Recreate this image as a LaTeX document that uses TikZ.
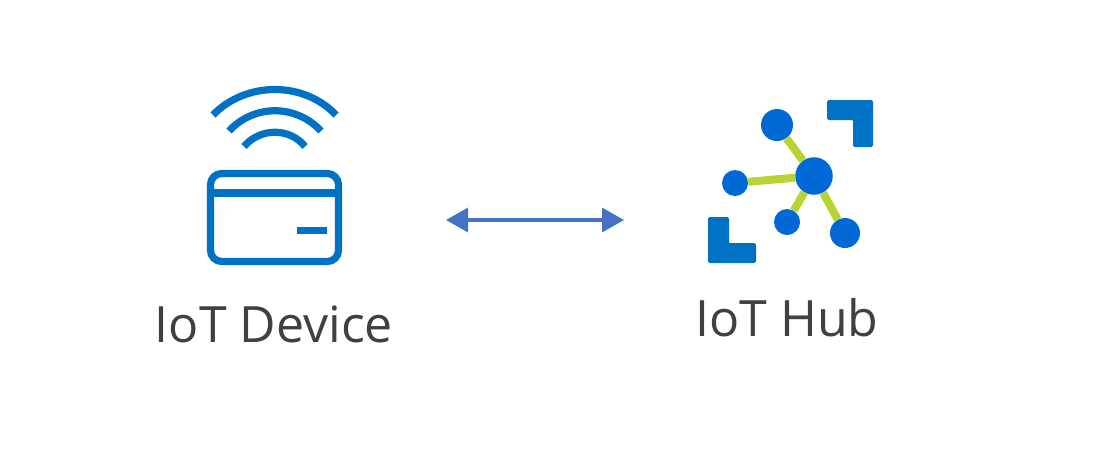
\documentclass[tikz,border=0pt]{standalone}
\usepackage{fontspec}
\setmainfont{Open Sans}
\usetikzlibrary{arrows.meta}
\definecolor{devblue}{HTML}{0072C6}
\definecolor{hubblue}{HTML}{0069D6}
\definecolor{linkgreen}{HTML}{B8D432}
\definecolor{arrowblue}{HTML}{4472C4}
\definecolor{labelgray}{HTML}{404040}
\tikzset{
  wave/.style={draw=devblue,line width=0.18cm},
  hubdot/.style={circle,fill=hubblue,inner sep=0pt,minimum size=#1*0.025cm},
  hublink/.style={draw=linkgreen,line width=0.2cm},
  corner/.style={fill=devblue,draw=devblue,line width=0.03cm,rounded corners=0.03cm},
  caption/.style={text=labelgray,font=\fontsize{35.6}{40}\selectfont,anchor=base}
}
\begin{document}
\begin{tikzpicture}[x=0.025cm,y=-0.025cm]
\useasboundingbox (0,0) rectangle (1096,449);

% Device: waves
\draw[wave] (213,115) .. controls (246,81) and (304,81) .. (336,115);
\draw[wave] (229,131) .. controls (254,104) and (296,104) .. (321,131);
\draw[wave] (244,146.5) .. controls (260,127.5) and (290,127.5) .. (305,146.5);

% Device: card
\draw[wave,rounded corners=0.28cm] (210.5,173.5) rectangle (338.5,261.5);
\draw[wave] (210.5,193) -- (338.5,193);
\draw[wave] (297,230.5) -- (327,230.5);

% Hub: nodes
\node[hubdot=37.5] (C) at (814,176) {};
\node[hubdot=32] (A) at (777,125) {};
\node[hubdot=26] (B) at (735,183) {};
\node[hubdot=26] (D) at (787,222) {};
\node[hubdot=30] (E) at (845,233) {};

% Hub: links
\draw[hublink] (C) -- (A);
\draw[hublink] (C) -- (B);
\draw[hublink] (C) -- (D);
\draw[hublink] (C) -- (E);

% Hub: corners
\fill[corner] (827.6,100.6) -- (872.4,100.6) -- (872.4,146.4) -- (853.6,146.4) -- (853.6,119.4) -- (827.6,119.4) -- cycle;
\fill[corner] (708.6,217.6) -- (728.4,217.6) -- (728.4,243.6) -- (755.4,243.6) -- (755.4,262.4) -- (708.6,262.4) -- cycle;

% Arrow
\coordinate (L) at (446,220);
\coordinate (R) at (624,220);
\draw[arrowblue,line width=0.085cm,{Triangle[length=0.55cm,width=0.6cm]}-{Triangle[length=0.55cm,width=0.6cm]}] (L) -- (R);

% Labels
\node[caption] (devlabel) at (274,342) {IoT Device};
\node[caption] (hublabel) at (787,336.5) {IoT Hub};

\end{tikzpicture}
\end{document}
